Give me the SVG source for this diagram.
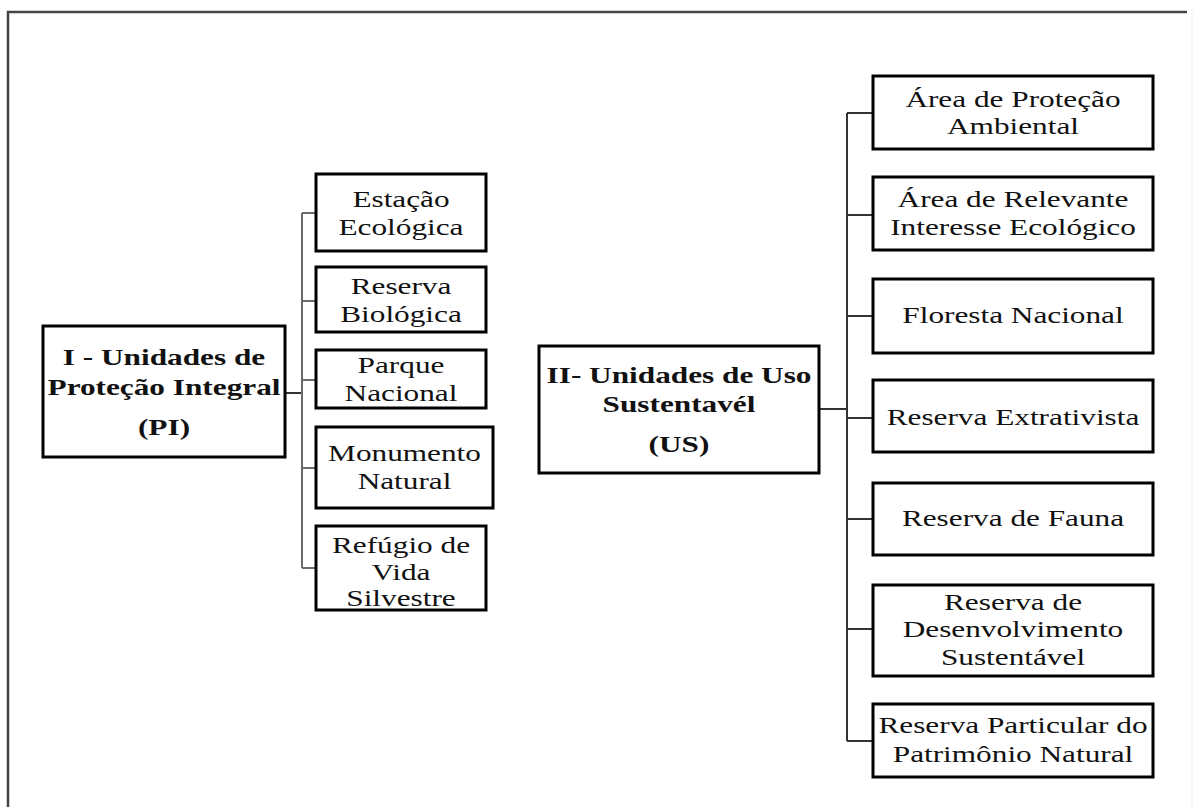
<svg xmlns="http://www.w3.org/2000/svg" width="1195" height="807" viewBox="0 0 1195 807">
<style>
.box{fill:#fff;stroke:#000;stroke-width:3}
.t{font-family:"Liberation Serif","Times New Roman",serif;font-size:23px;fill:#111;text-anchor:middle}
.b{font-weight:bold}
.cl{stroke:#6a6a6a;stroke-width:2;fill:none}
.cr{stroke:#333;stroke-width:2;fill:none}
.frame{stroke:#444;stroke-width:2.5;fill:none}
</style>
<rect x="0" y="0" width="1195" height="807" fill="#fff"/>
<g id="frame">
<path class="frame" d="M8,807 V12 H1187"/>
<line x1="1192" y1="12" x2="1192" y2="807" stroke="#eee" stroke-width="1"/>
</g>
<g id="connectors">
<path class="cr" d="M285,393 H302"/>
<path class="cl" d="M302,213 V568 M302,213 H316 M302,301 H316 M302,380 H316 M302,468 H316 M302,568 H316"/>
<path class="cr" d="M819,409 H847 M847,113 V741 M847,113 H873 M847,215 H873 M847,316 H873 M847,418 H873 M847,519 H873 M847,629 H873 M847,741 H873"/>
</g>
<g id="pi">
<rect class="box" x="43" y="326" width="242" height="131"/>
<text class="t b" transform="translate(164,365) scale(1.36,1)">I - Unidades de</text>
<text class="t b" transform="translate(164,395) scale(1.36,1)">Proteção Integral</text>
<text class="t b" transform="translate(164,435) scale(1.36,1)">(PI)</text>
</g>
<g id="estacao">
<rect class="box" x="316" y="174" width="170" height="77"/>
<text class="t" transform="translate(401,207) scale(1.36,1)">Estação</text>
<text class="t" transform="translate(401,235) scale(1.36,1)">Ecológica</text>
</g>
<g id="rebio">
<rect class="box" x="316" y="267" width="170" height="65"/>
<text class="t" transform="translate(401,294) scale(1.36,1)">Reserva</text>
<text class="t" transform="translate(401,322) scale(1.36,1)">Biológica</text>
</g>
<g id="parque">
<rect class="box" x="316" y="350" width="170" height="58"/>
<text class="t" transform="translate(401,373) scale(1.36,1)">Parque</text>
<text class="t" transform="translate(401,401) scale(1.36,1)">Nacional</text>
</g>
<g id="monumento">
<rect class="box" x="316" y="427" width="177" height="81"/>
<text class="t" transform="translate(404.5,461) scale(1.36,1)">Monumento</text>
<text class="t" transform="translate(404.5,489) scale(1.36,1)">Natural</text>
</g>
<g id="refugio">
<rect class="box" x="316" y="526" width="170" height="84"/>
<text class="t" transform="translate(401,553) scale(1.36,1)">Refúgio de</text>
<text class="t" transform="translate(401,580) scale(1.36,1)">Vida</text>
<text class="t" transform="translate(401,606) scale(1.36,1)">Silvestre</text>
</g>
<g id="us">
<rect class="box" x="539" y="346" width="280" height="127"/>
<text class="t b" transform="translate(679,383) scale(1.36,1)">II- Unidades de Uso</text>
<text class="t b" transform="translate(679,412) scale(1.36,1)">Sustentavél</text>
<text class="t b" transform="translate(679,452) scale(1.36,1)">(US)</text>
</g>
<g id="apa">
<rect class="box" x="873" y="76" width="280" height="73"/>
<text class="t" transform="translate(1013,107) scale(1.36,1)">Área de Proteção</text>
<text class="t" transform="translate(1013,134) scale(1.36,1)">Ambiental</text>
</g>
<g id="arie">
<rect class="box" x="873" y="177" width="280" height="73"/>
<text class="t" transform="translate(1013,207) scale(1.36,1)">Área de Relevante</text>
<text class="t" transform="translate(1013,235) scale(1.36,1)">Interesse Ecológico</text>
</g>
<g id="flona">
<rect class="box" x="873" y="279" width="280" height="74"/>
<text class="t" transform="translate(1013,323) scale(1.36,1)">Floresta Nacional</text>
</g>
<g id="resex">
<rect class="box" x="873" y="380" width="280" height="72"/>
<text class="t" transform="translate(1013,425) scale(1.36,1)">Reserva Extrativista</text>
</g>
<g id="refau">
<rect class="box" x="873" y="483" width="280" height="72"/>
<text class="t" transform="translate(1013,526) scale(1.36,1)">Reserva de Fauna</text>
</g>
<g id="rds">
<rect class="box" x="873" y="585" width="280" height="91"/>
<text class="t" transform="translate(1013,610) scale(1.36,1)">Reserva de</text>
<text class="t" transform="translate(1013,637) scale(1.36,1)">Desenvolvimento</text>
<text class="t" transform="translate(1013,665) scale(1.36,1)">Sustentável</text>
</g>
<g id="rppn">
<rect class="box" x="873" y="704" width="280" height="73"/>
<text class="t" transform="translate(1013,733) scale(1.36,1)">Reserva Particular do</text>
<text class="t" transform="translate(1013,762) scale(1.36,1)">Patrimônio Natural</text>
</g>
</svg>
